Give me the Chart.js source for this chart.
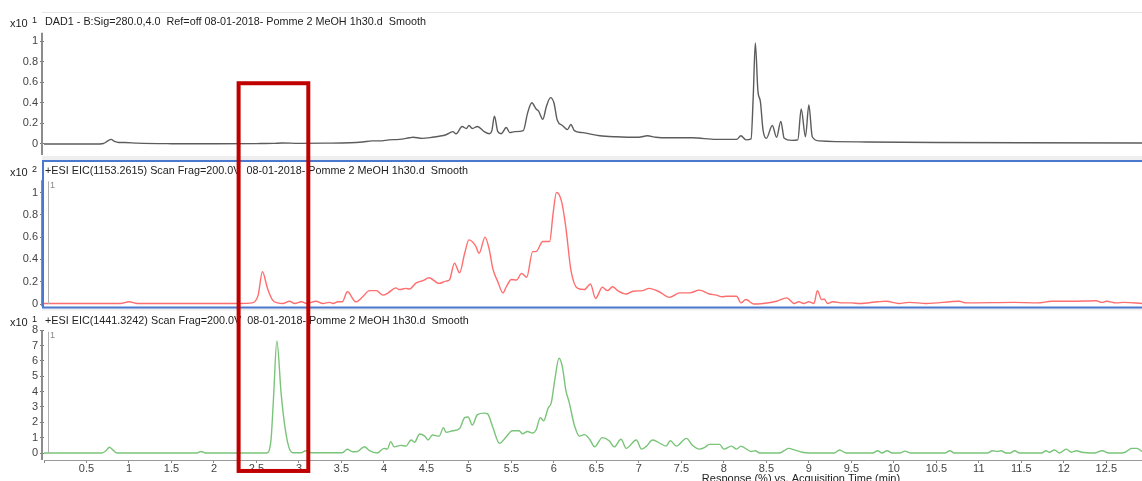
<!DOCTYPE html>
<html>
<head>
<meta charset="utf-8">
<script src="https://cdn.jsdelivr.net/npm/chart.js@4.4.1/dist/chart.umd.min.js"></script>
<style>
html, body { margin: 0; padding: 0; background: #fff; }
#wrap { width: 1142px; height: 481px; }
</style>
</head>
<body>
<div id="wrap"><canvas id="chromChart" width="1142" height="481"></canvas></div>
<script>
// Panel titles
const dadTitle = "DAD1 - B:Sig=280.0,4.0  Ref=off 08-01-2018- Pomme 2 MeOH 1h30.d  Smooth";
const eic1Title = "+ESI EIC(1153.2615) Scan Frag=200.0V  08-01-2018- Pomme 2 MeOH 1h30.d  Smooth";
const eic2Title = "+ESI EIC(1441.3242) Scan Frag=200.0V  08-01-2018- Pomme 2 MeOH 1h30.d  Smooth";
const xTitle = "Response (%) vs. Acquisition Time (min)";

// Tick values
const xTicks = [0, 0.5, 1, 1.5, 2, 2.5, 3, 3.5, 4, 4.5, 5, 5.5, 6, 6.5, 7, 7.5, 8, 8.5, 9, 9.5, 10, 10.5, 11, 11.5, 12, 12.5];
const dadTicks = [0, 0.2, 0.4, 0.6, 0.8, 1];
const eic1Ticks = [0, 0.2, 0.4, 0.6, 0.8, 1];
const eic2Ticks = [0, 1, 2, 3, 4, 5, 6, 7, 8];

// DAD1 280 nm trace (x10^1)
const dadTime = [0, 0.6, 0.7, 0.75, 0.79, 0.83, 0.88, 0.95, 1.1, 1.5, 2.0, 2.5, 2.7, 2.8, 3.0, 3.3, 3.6, 3.75, 3.86, 3.95,
  4.06, 4.18, 4.3, 4.34, 4.45, 4.57, 4.65, 4.73, 4.81, 4.85, 4.92, 4.97, 5.0, 5.04, 5.10, 5.18, 5.24, 5.27, 5.30, 5.34,
  5.38, 5.44, 5.48, 5.54, 5.64, 5.69, 5.74, 5.79, 5.82, 5.87, 5.91, 5.96, 6.0, 6.04, 6.10, 6.16, 6.2, 6.24, 6.34, 6.54,
  6.73, 7.0, 7.10, 7.2, 7.36, 7.63, 7.91, 8.15, 8.2, 8.26, 8.32, 8.345, 8.37, 8.40, 8.43, 8.46, 8.5, 8.57, 8.62, 8.67,
  8.71, 8.8, 8.87, 8.91, 8.96, 9.0, 9.04, 9.12, 9.68, 10.5, 11.5, 12.92];
const dadValues = [0, 0, 0.005, 0.03, 0.045, 0.025, 0.015, 0.015, 0.008, 0.003, 0.002, 0.004, 0.006, 0.01, 0.006, 0.008, 0.012, 0.02, 0.03, 0.03,
  0.04, 0.045, 0.06, 0.065, 0.055, 0.065, 0.075, 0.09, 0.12, 0.10, 0.17, 0.15, 0.18, 0.15, 0.17, 0.12, 0.10, 0.13, 0.27, 0.12,
  0.10, 0.16, 0.11, 0.12, 0.13, 0.30, 0.40, 0.34, 0.32, 0.24, 0.36, 0.45, 0.40, 0.23, 0.18, 0.14, 0.19, 0.13, 0.11, 0.08,
  0.07, 0.065, 0.08, 0.065, 0.06, 0.06, 0.045, 0.045, 0.08, 0.04, 0.05, 0.45, 0.98, 0.52, 0.41, 0.14, 0.055, 0.18, 0.065, 0.22,
  0.055, 0.035, 0.04, 0.34, 0.07, 0.38, 0.07, 0.03, 0.02, 0.015, 0.012, 0.01];

// +ESI EIC 1153.2615 trace (x10^2)
const eic1Time = [0, 0.9, 1.0, 1.1, 2.3, 2.45, 2.52, 2.57, 2.63, 2.69, 2.75, 2.81, 2.89, 2.95, 3.03, 3.09, 3.2, 3.28, 3.36, 3.4,
  3.46, 3.51, 3.57, 3.67, 3.75, 3.83, 3.91, 3.99, 4.05, 4.14, 4.18, 4.26, 4.3, 4.38, 4.46, 4.53, 4.65, 4.73, 4.77, 4.83,
  4.89, 4.95, 5.0, 5.08, 5.12, 5.19, 5.24, 5.28, 5.34, 5.4, 5.44, 5.5, 5.56, 5.62, 5.68, 5.75, 5.79, 5.87, 5.95, 5.99,
  6.03, 6.09, 6.14, 6.2, 6.28, 6.36, 6.43, 6.49, 6.57, 6.63, 6.69, 6.75, 6.85, 6.93, 7.04, 7.12, 7.24, 7.36, 7.48, 7.6,
  7.71, 7.83, 7.91, 7.98, 8.03, 8.15, 8.2, 8.26, 8.35, 8.46, 8.62, 8.74, 8.83, 8.88, 8.94, 9.0, 9.06, 9.10, 9.15, 9.18,
  9.22, 9.28, 9.4, 9.5, 9.6, 9.81, 9.91, 10.06, 10.18, 10.38, 10.77, 10.85, 11.42, 11.69, 11.86, 12.1, 12.38, 12.45, 12.5, 12.62,
  12.71, 12.92];
const eic1Values = [0.005, 0.005, 0.02, 0.005, 0.005, 0.01, 0.08, 0.29, 0.14, 0.035, 0.01, 0.005, 0.025, 0.005, 0.02, 0.005, 0.025, 0.005, 0.015, 0.005,
  0.02, 0.02, 0.11, 0.02, 0.065, 0.12, 0.12, 0.08, 0.10, 0.145, 0.13, 0.14, 0.135, 0.19, 0.21, 0.235, 0.185, 0.205, 0.215, 0.365,
  0.28, 0.455, 0.575, 0.52, 0.455, 0.60, 0.485, 0.32, 0.20, 0.10, 0.155, 0.22, 0.215, 0.275, 0.24, 0.47, 0.47, 0.56, 0.56, 0.81,
  1.0, 0.92, 0.69, 0.305, 0.14, 0.13, 0.18, 0.05, 0.15, 0.12, 0.155, 0.12, 0.09, 0.115, 0.12, 0.14, 0.11, 0.06, 0.10, 0.10,
  0.125, 0.09, 0.08, 0.065, 0.07, 0.07, 0.01, 0.04, 0.0, 0.005, 0.025, 0.055, 0.005, 0.02, 0.005, 0.02, 0.005, 0.12, 0.04, 0.045,
  0.005, 0.02, 0.01, 0.01, 0.005, 0.02, 0.025, 0.005, 0.015, 0.005, 0.025, 0.01, 0.015, 0.01, 0.025, 0.025, 0.03, 0.015, 0.025, 0.01,
  0.015, 0.005];

// +ESI EIC 1441.3242 trace (x10^1)
const eic2Time = [0, 0.68, 0.73, 0.77, 0.81, 0.86, 1.8, 1.85, 1.9, 2.62, 2.67, 2.70, 2.74, 2.79, 2.83, 2.88, 2.93, 3.03, 3.08, 3.14,
  3.51, 3.57, 3.63, 3.69, 3.77, 3.83, 3.92, 4.0, 4.04, 4.08, 4.12, 4.2, 4.26, 4.32, 4.36, 4.42, 4.48, 4.52, 4.57, 4.65,
  4.70, 4.73, 4.81, 4.89, 4.95, 4.99, 5.04, 5.1, 5.18, 5.22, 5.28, 5.36, 5.44, 5.51, 5.59, 5.63, 5.69, 5.75, 5.79, 5.84,
  5.88, 5.93, 5.97, 6.01, 6.06, 6.10, 6.14, 6.18, 6.24, 6.30, 6.36, 6.42, 6.48, 6.57, 6.65, 6.71, 6.79, 6.85, 6.97, 7.03,
  7.09, 7.16, 7.26, 7.32, 7.37, 7.44, 7.56, 7.63, 7.71, 7.77, 7.83, 7.95, 8.0, 8.09, 8.15, 8.2, 8.32, 8.37, 8.42, 8.65,
  8.71, 8.76, 8.83, 8.92, 9.0, 9.3, 9.36, 9.44, 9.75, 9.81, 9.86, 9.92, 9.98, 10.07, 10.13, 10.2, 10.6, 10.66, 10.71, 11.1,
  11.16, 11.22, 11.26, 11.32, 11.37, 11.42, 11.48, 11.74, 11.79, 11.83, 11.89, 11.95, 12.03, 12.09, 12.15, 12.21, 12.36, 12.45, 12.53, 12.68,
  12.72, 12.8, 12.86, 12.92];
const eic2Values = [0, 0, 0.15, 0.37, 0.2, 0, 0, 0.1, 0, 0, 0.8, 3.5, 7.3, 3.9, 1.9, 0.4, 0.02, 0.02, 0.15, 0.02,
  0.02, 0.24, 0.08, 0.1, 0.41, 0.15, 0.0, 0.3, 0.25, 0.74, 0.4, 0.5, 0.45, 0.85, 0.7, 1.24, 1.1, 0.85, 1.17, 1.1,
  1.65, 1.35, 1.45, 1.6, 2.3, 2.35, 1.82, 2.5, 2.6, 2.55, 1.7, 0.63, 1.06, 1.45, 1.45, 1.25, 1.4, 1.3, 1.5, 2.3,
  2.1, 2.9, 3.3, 4.75, 6.17, 5.6, 4.1, 3.3, 1.82, 1.1, 1.2, 0.9, 0.41, 1.0, 0.8, 0.4, 0.9, 0.3, 0.85, 0.25,
  0.45, 0.85, 0.6, 0.45, 0.8, 0.45, 0.95, 0.5, 0.25, 0.35, 0.56, 0.56, 0.25, 0.45, 0.25, 0.45, 0.1, 0.15, 0.0, 0,
  0.15, 0.3, 0.2, 0.05, 0, 0, 0.2, 0, 0, 0.15, 0, 0.15, 0, 0, 0.12, 0, 0, 0.15, 0, 0,
  0.15, 0.1, 0.15, 0, 0, 0.15, 0, 0, 0.15, 0.05, 0.2, 0, 0.25, 0.05, 0.15, 0.05, 0, 0.15, 0, 0,
  0.05, 0.3, 0.3, 0.1];

// Highlight box (x in minutes, top in DAD units, bottom in EIC 1441 units)
const boxStart = 2.29, boxEnd = 3.11, boxTop = 0.59, boxBottom = -1.17;

const FONT = '"Liberation Sans", Arial, sans-serif';

function toPoints(times, values) {
    return times.map((t, i) => ({ x: t, y: values[i] }));
}

function yAxis(min, max, ticks, weight, stackWeight) {
    return {
        type: "linear",
        position: "left",
        stack: "panels",
        stackWeight: stackWeight,
        weight: weight,
        min: min,
        max: max,
        afterBuildTicks: (scale) => { scale.ticks = ticks.map(v => ({ value: v })); },
        afterFit: (scale) => { scale.width = 44; },
        border: { display: false },
        grid: { drawOnChartArea: false, drawTicks: true, tickLength: 4, color: "#777" },
        ticks: {
            autoSkip: false,
            padding: 2,
            color: "#444",
            font: { family: FONT, size: 11 },
            callback: (v) => String(v),
        },
    };
}

const panelDecor = {
    id: "panelDecor",
    beforeDraw(chart) {
        const { ctx } = chart;
        const s = chart.scales;
        ctx.save();
        ctx.fillStyle = "#ffffff";
        ctx.fillRect(0, 0, chart.width, chart.height);
        ctx.fillStyle = "#e6e6e6";
        ctx.fillRect(42, s.yDad.top - 1, chart.width - 42, 1);
        ctx.fillStyle = "#eeeeee";
        ctx.fillRect(42, s.yDad.bottom - 2, chart.width - 42, 4);
        ctx.fillRect(42, s.yEic1.bottom - 1, chart.width - 42, 3);
        ctx.restore();
    },
    afterDraw(chart) {
        const { ctx } = chart;
        const s = chart.scales;
        ctx.save();

        // y axis lines
        ctx.strokeStyle = "#8c8c8c";
        ctx.lineWidth = 2;
        const axisSpans = [[s.yDad, -0.107, 1.08], [s.yEic1, -0.02, 1.11], [s.yEic2, -0.46, 8.0]];
        axisSpans.forEach(([sc, lo, hi]) => {
            ctx.beginPath();
            ctx.moveTo(42, sc.getPixelForValue(hi));
            ctx.lineTo(42, sc.getPixelForValue(lo));
            ctx.stroke();
        });

        // inner thin marker lines with "1"
        ctx.strokeStyle = "#b0b0b0";
        ctx.lineWidth = 1;
        [[s.yEic1, 1.1], [s.yEic2, 7.9]].forEach(([sc, hi]) => {
            const top = sc.getPixelForValue(hi);
            ctx.beginPath();
            ctx.moveTo(48.5, top);
            ctx.lineTo(48.5, sc.getPixelForValue(0));
            ctx.stroke();
            ctx.fillStyle = "#888";
            ctx.font = "9px " + FONT;
            ctx.textBaseline = "middle";
            ctx.textAlign = "left";
            ctx.fillText("1", 50, top + 4);
        });

        // panel 2 blue frame
        ctx.strokeStyle = "#4a78cf";
        ctx.lineWidth = 2;
        ctx.strokeRect(43, s.yEic1.top + 3, chart.width - 43 + 2, s.yEic1.bottom - s.yEic1.top - 4);

        // headers
        ctx.fillStyle = "#222";
        ctx.textAlign = "left";
        ctx.textBaseline = "middle";
        const headers = [[dadTitle, "1", s.yDad.top + 9], [eic1Title, "2", s.yEic1.top + 13], [eic2Title, "1", s.yEic2.top + 12.5]];
        headers.forEach(([txt, exp, y]) => {
            ctx.font = "10.8px " + FONT;
            ctx.fillText(txt, 45, y);
            ctx.font = "11px " + FONT;
            ctx.fillText("x10", 10, y + 1.5);
            ctx.font = "9px " + FONT;
            ctx.fillText(exp, 32, y - 1.5);
        });

        // x axis title
        ctx.font = "11px " + FONT;
        ctx.textAlign = "center";
        ctx.textBaseline = "top";
        ctx.fillStyle = "#222";
        ctx.fillText(xTitle, 801, 473);

        // red highlight box
        const x0 = s.x.getPixelForValue(boxStart);
        const x1 = s.x.getPixelForValue(boxEnd);
        const y0 = s.yDad.getPixelForValue(boxTop);
        const y1 = s.yEic2.getPixelForValue(boxBottom);
        ctx.strokeStyle = "#c00000";
        ctx.lineWidth = 4;
        ctx.strokeRect(x0, y0, x1 - x0, y1 - y0);
        ctx.restore();
    },
};

const ctx = document.getElementById("chromChart").getContext("2d");

new Chart(ctx, {
    type: "line",
    data: {
        datasets: [
            {
                label: "DAD1",
                data: toPoints(dadTime, dadValues),
                yAxisID: "yDad",
                borderColor: "#5c5c5c",
                borderWidth: 1.4,
            },
            {
                label: "EIC 1153.2615",
                data: toPoints(eic1Time, eic1Values),
                yAxisID: "yEic1",
                borderColor: "#ff6e6e",
                borderWidth: 1.4,
            },
            {
                label: "EIC 1441.3242",
                data: toPoints(eic2Time, eic2Values),
                yAxisID: "yEic2",
                borderColor: "#79c479",
                borderWidth: 1.4,
            },
        ],
    },
    options: {
        responsive: false,
        animation: false,
        elements: { point: { radius: 0 }, line: { cubicInterpolationMode: "monotone" } },
        layout: { padding: { top: 13, left: 0, right: 0, bottom: 0 } },
        plugins: {
            legend: { display: false },
            tooltip: { enabled: false },
        },
        scales: {
            x: {
                type: "linear",
                min: 0,
                max: 12.92,
                afterBuildTicks: (scale) => { scale.ticks = xTicks.map(v => ({ value: v })); },
                afterFit: (scale) => { scale.height = 21; },
                border: { display: true, color: "#9a9a9a", width: 1 },
                grid: { drawOnChartArea: false, drawTicks: true, tickLength: 3, color: "#888" },
                ticks: {
                    padding: -1,
                    maxRotation: 0,
                    autoSkip: false,
                    color: "#444",
                    font: { family: FONT, size: 11 },
                    callback: (v) => (v === 0 ? "" : String(v)),
                },
            },
            yDad: yAxis(-0.136, 1.272, dadTicks, 3, 145),
            yEic1: yAxis(-0.040, 1.309, eic1Ticks, 2, 150.5),
            yEic2: yAxis(-0.456, 9.414, eic2Ticks, 1, 151.5),
        },
    },
    plugins: [panelDecor],
});
</script>
</body>
</html>
